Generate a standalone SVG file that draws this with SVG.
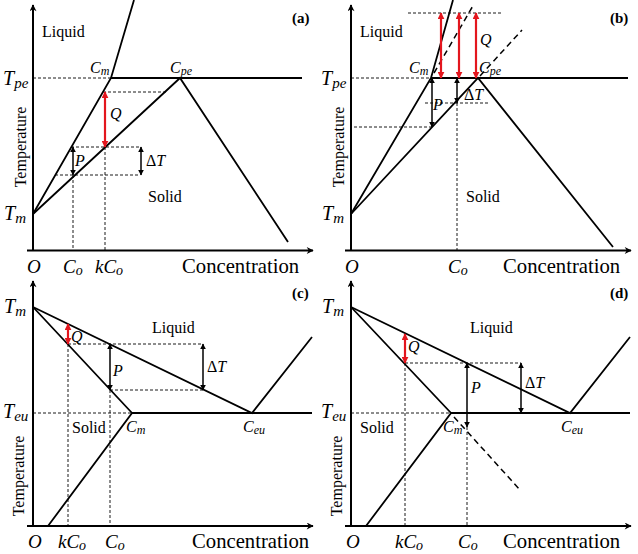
<svg xmlns="http://www.w3.org/2000/svg" width="638" height="554" viewBox="0 0 638 554" font-family="'Liberation Serif', 'Times New Roman', serif">
<defs>
<style>
.ln{stroke:#000;stroke-width:1.8;fill:none;stroke-linejoin:miter}
.ax{stroke:#000;stroke-width:2;fill:none}
.ds{stroke:#000;stroke-width:0.9;stroke-dasharray:3,2;fill:none}
.dx{stroke:#000;stroke-width:1.5;stroke-dasharray:6,4;fill:none}
.ba{stroke:#000;stroke-width:1.5;fill:none;marker-start:url(#hb);marker-end:url(#hb)}
.ra{stroke:#e3161e;stroke-width:2.2;fill:none;marker-start:url(#hr);marker-end:url(#hr)}
.axa{marker-end:url(#ha)}
text{font-family:"Liberation Serif","Times New Roman",serif;fill:#000}
.t{font-size:16px}
.mi{font-style:italic;font-size:20px}
.mb{font-style:italic;font-size:20px}
.sm{font-style:italic;font-size:16px}
.lb{font-style:italic;font-size:19px}
.pn{font-size:15px;font-weight:bold}
.cc{font-size:20.7px}
</style>
<marker id="hb" viewBox="0 0 10 10" refX="9" refY="5" markerWidth="6" markerHeight="6" orient="auto-start-reverse" markerUnits="userSpaceOnUse"><path d="M0,0 L10,5 L0,10 z" fill="#000"/></marker>
<marker id="hr" viewBox="0 0 10 10" refX="9" refY="5" markerWidth="7" markerHeight="7" orient="auto-start-reverse" markerUnits="userSpaceOnUse"><path d="M0,0 L10,5 L0,10 z" fill="#e3161e"/></marker>
<marker id="ha" viewBox="0 0 10 10" refX="9" refY="5" markerWidth="8" markerHeight="7" orient="auto" markerUnits="userSpaceOnUse"><path d="M0,0 L10,5 L0,10 L3,5 z" fill="#000"/></marker>
</defs>

<!-- Panel (a) -->
<g id="panel-a">
  <g id="a-axes">
    <path class="ax axa" d="M33,251 L33,5"/>
    <path class="ax axa" d="M27,250.5 L313,250.5"/>
  </g>
  <g id="a-curves">
    <path class="ln" d="M33,214 L111,78 L134,0"/>
    <path class="ln" d="M111,78 L302,78"/>
    <path class="ln" d="M33,214 L180,78 L288,242"/>
  </g>
  <g id="a-connectors">
    <path class="ds" d="M33,78 L111,78"/>
    <path class="ds" d="M103,92 L166,92"/>
    <path class="ds" d="M71,147 L140,147"/>
    <path class="ds" d="M55,175 L140,175"/>
    <path class="ds" d="M73,175 L73,250"/>
    <path class="ds" d="M105,147 L105,250"/>
    <path class="ra" d="M105,92 L105,147"/>
    <path class="ba" d="M73,147 L73,175"/>
    <path class="ba" d="M141,147 L141,175"/>
  </g>
  <g id="a-labels">
    <text class="t" x="42" y="37">Liquid</text>
    <text class="pn" x="292" y="23">(a)</text>
    <text class="sm" x="90" y="73">C<tspan font-size="12" dy="2">m</tspan></text>
    <text class="sm" x="170" y="73">C<tspan font-size="12" dy="2">pe</tspan></text>
    <text class="mb" x="3" y="85">T<tspan font-size="15" dy="3">pe</tspan></text>
    <text class="mi" x="4" y="220">T<tspan font-size="15" dy="3">m</tspan></text>
    <text class="sm" x="110" y="119" font-size="17">Q</text>
    <text class="sm" x="75" y="166" font-size="17">P</text>
    <text x="146" y="166" font-size="16">Δ<tspan font-style="italic">T</tspan></text>
    <text class="t" x="148" y="202">Solid</text>
    <text class="t" transform="translate(26,147) rotate(-90)" text-anchor="middle">Temperature</text>
    <text class="lb" x="27" y="273">O</text>
    <text class="lb" x="63" y="273">C<tspan font-size="14" dy="2">o</tspan></text>
    <text class="lb" x="95" y="273">kC<tspan font-size="14" dy="2">o</tspan></text>
    <text class="cc" x="182" y="273">Concentration</text>
  </g>
</g>

<!-- Panel (b) -->
<g id="panel-b">
  <g id="b-axes">
    <path class="ax axa" d="M351,251 L351,5"/>
    <path class="ax axa" d="M345,250.5 L631,250.5"/>
  </g>
  <g id="b-curves">
    <path class="ln" d="M351,214 L431,78 L453,0"/>
    <path class="ln" d="M431,78 L628,78"/>
    <path class="ln" d="M351,214 L478,78 L613,247"/>
    <path class="dx" d="M434,73 L474,4"/>
    <path class="dx" d="M480,76 L522,30"/>
  </g>
  <g id="b-connectors">
    <path class="ds" d="M351,78 L431,78"/>
    <path class="ds" d="M408,13 L503,13"/>
    <path class="ds" d="M425,103 L488,103"/>
    <path class="ds" d="M354,127 L432,127"/>
    <path class="ds" d="M457,103 L457,250"/>
    <path class="ra" d="M441,13 L441,78"/>
    <path class="ra" d="M459,13 L459,78"/>
    <path class="ra" d="M476,13 L476,78"/>
    <path class="ba" d="M432,78 L432,127"/>
    <path class="ba" d="M457,78 L457,103"/>
  </g>
  <g id="b-labels">
    <text class="t" x="360" y="37">Liquid</text>
    <text class="pn" x="610" y="23">(b)</text>
    <text class="sm" x="409" y="73">C<tspan font-size="12" dy="2">m</tspan></text>
    <text class="sm" x="479" y="73">C<tspan font-size="12" dy="2">pe</tspan></text>
    <text class="mb" x="321" y="85">T<tspan font-size="15" dy="3">pe</tspan></text>
    <text class="mi" x="322" y="220">T<tspan font-size="15" dy="3">m</tspan></text>
    <text class="sm" x="480" y="45" font-size="17">Q</text>
    <text class="sm" x="433" y="110" font-size="17">P</text>
    <text x="464" y="100" font-size="16">Δ<tspan font-style="italic">T</tspan></text>
    <text class="t" x="466" y="202">Solid</text>
    <text class="t" transform="translate(344,147) rotate(-90)" text-anchor="middle">Temperature</text>
    <text class="lb" x="345" y="273">O</text>
    <text class="lb" x="448" y="273">C<tspan font-size="14" dy="2">o</tspan></text>
    <text class="cc" x="503" y="273">Concentration</text>
  </g>
</g>

<!-- Panel (c) -->
<g id="panel-c">
  <g id="c-axes">
    <path class="ax axa" d="M33,527 L33,281"/>
    <path class="ax axa" d="M27,526 L313,526"/>
  </g>
  <g id="c-curves">
    <path class="ln" d="M33,307 L132,413 L48,526"/>
    <path class="ln" d="M33,307 L252,413 L312,337"/>
    <path class="ln" d="M132,413 L312,413"/>
  </g>
  <g id="c-connectors">
    <path class="ds" d="M33,413 L132,413"/>
    <path class="ds" d="M68,344 L203,344"/>
    <path class="ds" d="M110,390 L203,390"/>
    <path class="ds" d="M68,344 L68,526"/>
    <path class="ds" d="M110,390 L110,526"/>
    <path class="ra" d="M68,324 L68,344"/>
    <path class="ba" d="M110,344 L110,390"/>
    <path class="ba" d="M203,344 L203,390"/>
  </g>
  <g id="c-labels">
    <text class="pn" x="292" y="298">(c)</text>
    <text class="t" x="152" y="333">Liquid</text>
    <text class="sm" x="71" y="342" font-size="17">Q</text>
    <text class="sm" x="113" y="376" font-size="17">P</text>
    <text x="207" y="372" font-size="16">Δ<tspan font-style="italic">T</tspan></text>
    <text class="mi" x="4" y="313">T<tspan font-size="15" dy="3">m</tspan></text>
    <text class="mb" x="3" y="418">T<tspan font-size="15" dy="3">eu</tspan></text>
    <text class="t" x="72" y="433">Solid</text>
    <text class="sm" x="126" y="432">C<tspan font-size="12" dy="2">m</tspan></text>
    <text class="sm" x="243" y="432">C<tspan font-size="12" dy="2">eu</tspan></text>
    <text class="t" transform="translate(24,476) rotate(-90)" text-anchor="middle">Temperature</text>
    <text class="lb" x="28" y="548">O</text>
    <text class="lb" x="58" y="548">kC<tspan font-size="14" dy="2">o</tspan></text>
    <text class="lb" x="105" y="548">C<tspan font-size="14" dy="2">o</tspan></text>
    <text class="cc" x="192" y="548">Concentration</text>
  </g>
</g>

<!-- Panel (d) -->
<g id="panel-d">
  <g id="d-axes">
    <path class="ax axa" d="M351,527 L351,281"/>
    <path class="ax axa" d="M345,526 L631,526"/>
  </g>
  <g id="d-curves">
    <path class="ln" d="M351,307 L451,413 L366,526"/>
    <path class="ln" d="M351,307 L570,413 L630,337"/>
    <path class="ln" d="M451,413 L630,413"/>
    <path class="dx" d="M454,417 L521,491"/>
  </g>
  <g id="d-connectors">
    <path class="ds" d="M351,413 L451,413"/>
    <path class="ds" d="M405,363 L521,363"/>
    <path class="ds" d="M405,363 L405,526"/>
    <path class="ds" d="M467,427 L467,526"/>
    <path class="ra" d="M405,334 L405,363"/>
    <path class="ba" d="M467,363 L467,427"/>
    <path class="ba" d="M521,363 L521,413"/>
  </g>
  <g id="d-labels">
    <text class="pn" x="610" y="298">(d)</text>
    <text class="t" x="470" y="333">Liquid</text>
    <text class="sm" x="408" y="352" font-size="17">Q</text>
    <text class="sm" x="471" y="393" font-size="17">P</text>
    <text x="525" y="388" font-size="16">Δ<tspan font-style="italic">T</tspan></text>
    <text class="mi" x="322" y="313">T<tspan font-size="15" dy="3">m</tspan></text>
    <text class="mb" x="321" y="418">T<tspan font-size="15" dy="3">eu</tspan></text>
    <text class="t" x="360" y="433">Solid</text>
    <text class="sm" x="443" y="432">C<tspan font-size="12" dy="2">m</tspan></text>
    <text class="sm" x="561" y="432">C<tspan font-size="12" dy="2">eu</tspan></text>
    <text class="t" transform="translate(342,476) rotate(-90)" text-anchor="middle">Temperature</text>
    <text class="lb" x="346" y="548">O</text>
    <text class="lb" x="395" y="548">kC<tspan font-size="14" dy="2">o</tspan></text>
    <text class="lb" x="458" y="548">C<tspan font-size="14" dy="2">o</tspan></text>
    <text class="cc" x="503" y="548">Concentration</text>
  </g>
</g>
</svg>
